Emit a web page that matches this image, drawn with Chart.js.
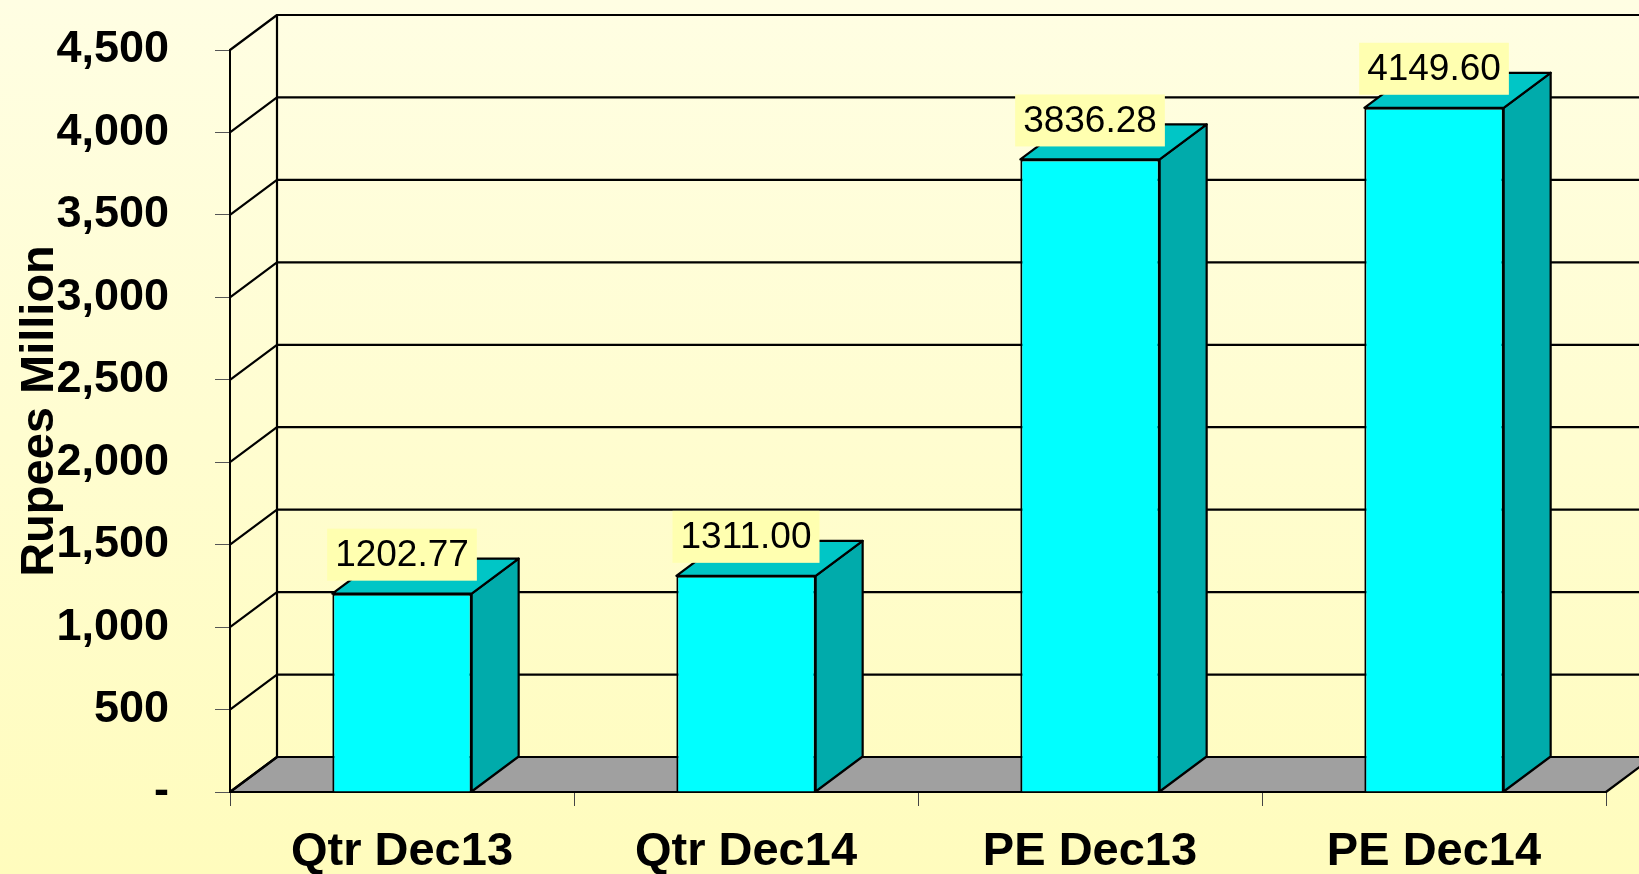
<!DOCTYPE html>
<html>
<head>
<meta charset="utf-8">
<script src="https://cdn.jsdelivr.net/npm/chart.js@4"></script>
<style>
  html, body { margin: 0; padding: 0; overflow: hidden; }
  #wrap { width: 1639px; height: 874px; position: relative; }
</style>
</head>
<body>
<div id="wrap"><canvas id="chart"></canvas></div>
<script>
const CATEGORIES = ["Qtr Dec13", "Qtr Dec14", "PE Dec13", "PE Dec14"];
const VALUES     = [1202.77, 1311.00, 3836.28, 4149.60];
const Y_TITLE    = "Rupees Million";

// depth of the 3d box (front -> back wall)
const DX = 47, DY = -35;
const FONT = "'Liberation Sans', Arial, sans-serif";

function poly(ctx, pts, fill) {
  ctx.beginPath();
  ctx.moveTo(pts[0][0], pts[0][1]);
  for (let i = 1; i < pts.length; i++) ctx.lineTo(pts[i][0], pts[i][1]);
  ctx.closePath();
  if (fill) { ctx.fillStyle = fill; ctx.fill(); }
  ctx.stroke();
}

// ── background, walls, floor, 3d faces of bars ──
const box3d = {
  id: "box3d",
  beforeDraw(chart) {
    const ctx = chart.ctx;
    const g = ctx.createLinearGradient(0, 0, 0, chart.height);
    g.addColorStop(0, "#fffee3");
    g.addColorStop(1, "#fffcbd");
    ctx.save();
    ctx.fillStyle = g;
    ctx.fillRect(0, 0, chart.width, chart.height);
    ctx.restore();
  },
  beforeDatasetsDraw(chart) {
    const ctx = chart.ctx;
    const { left, right, top, bottom } = chart.chartArea;
    const ys = chart.scales.y;
    ctx.save();
    ctx.strokeStyle = "#000";
    ctx.lineWidth = 2.2;
    ctx.lineJoin = "round";

    // floor
    poly(ctx, [[left, bottom], [left + DX, bottom + DY], [right + DX, bottom + DY], [right, bottom]], "#a0a0a0");

    // side wall + back wall grid lines
    for (const t of ys.ticks) {
      const py = ys.getPixelForValue(t.value);
      ctx.beginPath();
      ctx.moveTo(left, py);
      ctx.lineTo(left + DX, py + DY);
      ctx.lineTo(chart.width, py + DY);
      ctx.stroke();
    }
    ctx.beginPath();
    ctx.moveTo(left + DX, top + DY);
    ctx.lineTo(left + DX, bottom + DY);
    ctx.stroke();

    // bar sides and tops
    const meta = chart.getDatasetMeta(0);
    for (const bar of meta.data) {
      const { x, y, base, width } = bar.getProps(["x", "y", "base", "width"], true);
      const l = x - width / 2, r = x + width / 2;
      poly(ctx, [[r, y], [r + DX, y + DY], [r + DX, base + DY], [r, base]], "#00abab");
      poly(ctx, [[l, y], [l + DX, y + DY], [r + DX, y + DY], [r, y]], "#00c6c6");
    }
    ctx.restore();
  },
  afterDatasetsDraw(chart) {
    const ctx = chart.ctx;
    const meta = chart.getDatasetMeta(0);
    ctx.save();
    ctx.font = "37px " + FONT;
    ctx.textAlign = "center";
    ctx.textBaseline = "middle";
    meta.data.forEach((bar, i) => {
      const { x, y } = bar.getProps(["x", "y"], true);
      const text = VALUES[i].toFixed(2);
      const w = ctx.measureText(text).width + 16, h = 52;
      const by = y - 13 - h;
      ctx.fillStyle = "#ffffb0";
      ctx.fillRect(x - w / 2, by, w, h);
      ctx.fillStyle = "#000";
      ctx.fillText(text, x, by + h / 2 + 1);
    });
    ctx.restore();
  },
  afterDraw(chart) {
    // axis title, placed like the original (slightly above the axis middle)
    const ctx = chart.ctx;
    ctx.save();
    ctx.translate(40, 411);
    ctx.rotate(-Math.PI / 2);
    ctx.font = "bold 47px " + FONT;
    ctx.fillStyle = "#000";
    ctx.textAlign = "center";
    ctx.textBaseline = "middle";
    ctx.fillText(Y_TITLE, 0, 0);
    ctx.restore();
  }
};

new Chart(document.getElementById("chart"), {
  type: "bar",
  data: {
    labels: CATEGORIES,
    datasets: [{
      data: VALUES,
      backgroundColor: "#00ffff",
      borderColor: "#000",
      borderWidth: 2,
      barPercentage: 0.405,
      categoryPercentage: 1
    }]
  },
  options: {
    animation: false, responsive: true, maintainAspectRatio: false,
    layout: { padding: { top: 50, right: 33, left: 0, bottom: 0 } },
    plugins: { legend: { display: false }, tooltip: { enabled: false } },
    scales: {
      x: {
        afterFit(s) { s.height = 82; },
        grid: { offset: true, drawOnChartArea: false, tickLength: 14, color: "#444", lineWidth: 1 },
        border: { color: "#000", width: 2 },
        ticks: { color: "#000", padding: 18, font: { family: FONT, size: 47, weight: "bold" } }
      },
      y: {
        min: 0, max: 4500,
        afterFit(s) { s.width = 230; s.paddingTop = 0; s.paddingBottom = 0; },
        grid: { drawOnChartArea: false, tickLength: 15, color: "#555", lineWidth: 1 },
        border: { color: "#000", width: 2 },
        ticks: {
          stepSize: 500, color: "#000", padding: 46,
          font: { family: FONT, size: 45, weight: "bold" },
          callback: v => v === 0 ? "-" : v.toLocaleString("en-US")
        }
      }
    }
  },
  plugins: [box3d]
});
</script>
</body>
</html>
